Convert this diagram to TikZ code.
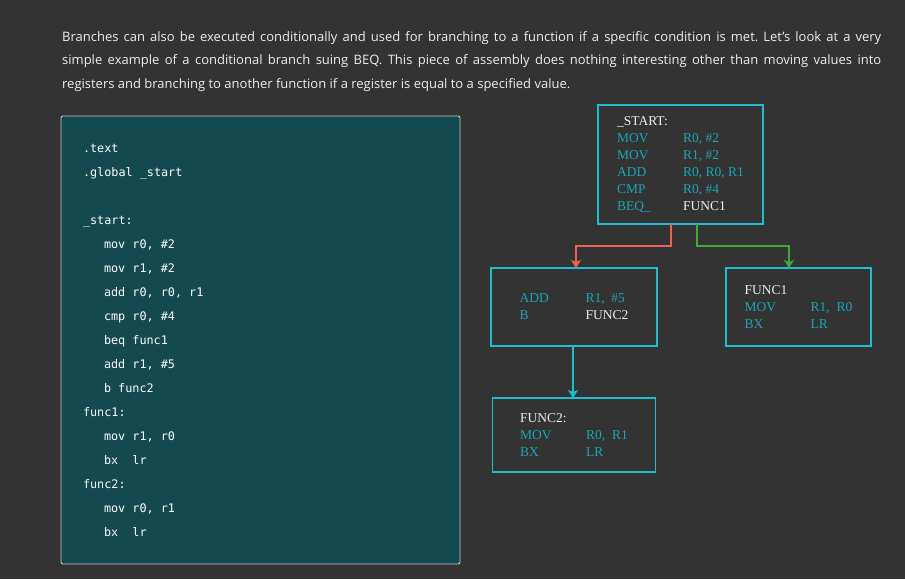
\documentclass[tikz,border=0pt]{standalone}
\usepackage{fontspec}
\setmainfont{Open Sans}
\newfontfamily\codefont{DejaVu Sans Mono}
\newfontfamily\boxfont{Liberation Serif}
\usepackage{tikz}
\usetikzlibrary{shapes.geometric, arrows, arrows.meta, positioning}
\definecolor{pagebg}{HTML}{333333}
\definecolor{codebg}{HTML}{14494F}
\definecolor{boxline}{HTML}{1FBDCF}
\definecolor{optext}{HTML}{1BA5B6}
\definecolor{labeltext}{HTML}{EEEEEE}
\definecolor{redline}{HTML}{F0605A}
\definecolor{greenline}{HTML}{3FAA3A}
\tikzstyle{codebox} = [rectangle, rounded corners=2pt, draw=gray!45, line width=0.9pt, fill=codebg, text width=355pt, inner xsep=22pt, minimum height=448pt, align=left, text=white, font=\codefont\fontsize{11.8}{24}\selectfont]
\tikzstyle{block} = [rectangle, draw=boxline, line width=1.4pt, outer sep=0pt, align=left, text=optext, font=\boxfont\fontsize{13.5}{17}\selectfont]
\tikzstyle{arrow} = [line width=1.8pt,->,>={Stealth[length=8pt,width=10pt,inset=2pt]}]
\newcommand{\op}[2]{\makebox[66pt][l]{#1}#2}
\newcommand{\lbl}[1]{\textcolor{labeltext}{#1}}
\newcommand{\ind}{\hspace*{21pt}}

\begin{document}
\frenchspacing
\begin{tikzpicture}[x=1pt, y=-1pt]
\useasboundingbox (0,0) rectangle (905,579);
\fill [pagebg] (0,0) rectangle (905,579);

\node (para) [anchor=north west, text width=819pt, align=justify, inner sep=0pt, text=labeltext, font=\fontsize{13}{23.5}\selectfont] at (62,31) {Branches can also be executed conditionally and used for branching to a function if a specific condition is met. Let's look at a very\linebreak simple example of a conditional branch suing BEQ. This piece of assembly does nothing interesting other than moving values into\linebreak registers and branching to another function if a register is equal to a specified value.};

\node (code) [codebox] at (260.5,340) {\spaceskip=7.1pt\relax .text\\
.global \_start\\[24pt]
\_start:\\
\ind mov r0, \#2\\
\ind mov r1, \#2\\
\ind add r0, r0, r1\\
\ind cmp r0, \#4\\
\ind beq func1\\
\ind add r1, \#5\\
\ind b func2\\
func1:\\
\ind mov r1, r0\\
\ind bx\ \ lr\\
func2:\\
\ind mov r0, r1\\
\ind bx\ \ lr};

\node (start) [block, minimum width=165pt, minimum height=119pt] at (680.5,164.5) {\lbl{\_START:}\\ \op{MOV}{R0, \#2}\\ \op{MOV}{R1, \#2}\\ \op{ADD}{R0, R0, R1}\\ \op{CMP}{R0, \#4}\\ \op{BEQ\_}{\lbl{FUNC1}}};
\node (addb) [block, minimum width=166pt, minimum height=78pt] at (574,307) {\op{ADD}{R1,\ \ \#5}\\ \op{B}{\lbl{FUNC2}}};
\node (func1) [block, minimum width=145pt, minimum height=78pt, right=69pt of addb] {\lbl{FUNC1}\\ \op{MOV}{R1,\ \ R0}\\ \op{BX}{LR}};
\node (func2) [block, minimum width=163pt, minimum height=74pt, below=52pt of addb] {\lbl{FUNC2:}\\ \op{MOV}{R0,\ \ R1}\\ \op{BX}{LR}};

\draw [arrow, redline] ([xshift=-9.5pt]start.south) -- ++(0,22) -| ([xshift=2pt]addb.north);
\draw [arrow, greenline] ([xshift=16.5pt]start.south) -- ++(0,22) -| ([xshift=-9.5pt]func1.north);
\draw [arrow, boxline] ([xshift=-1pt]addb.south) -- ([xshift=-1pt]func2.north);
\end{tikzpicture}
\end{document}
